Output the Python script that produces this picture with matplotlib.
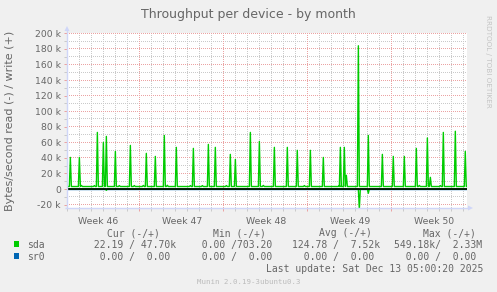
import matplotlib
matplotlib.use('Agg')
import numpy as np
import matplotlib.pyplot as plt
from matplotlib.colors import to_rgb
from matplotlib.patches import Rectangle, Polygon
from matplotlib.ticker import FixedLocator, FuncFormatter, MultipleLocator

# ---------------- data (x in days since Mon 10 Nov 2025, values in bytes/s) ----------------
write_spike_day = [1.28, 2.03, 3.53, 4.03, 4.28, 5.03, 6.28, 7.61, 8.36, 9.11, 10.11, 11.53,
                   12.78, 13.36, 14.61, 15.03, 16.28, 17.03, 18.28, 19.36, 20.19, 21.28, 22.36,
                   23.78, 24.11, 24.28, 25.28, 26.11, 27.28, 28.19, 29.11, 30.11, 31.03, 31.28,
                   32.36, 33.36, 34.19]
write_spike_val = [40.6e3, 40.6e3, 72.7e3, 59.9e3, 67.6e3, 48.3e3, 56.0e3, 45.8e3, 41.9e3, 68.8e3,
                   53.5e3, 52.2e3, 57.3e3, 53.5e3, 44.5e3, 38.1e3, 72.7e3, 61.2e3, 53.5e3, 53.5e3,
                   49.7e3, 49.7e3, 40.6e3, 53.5e3, 53.5e3, 17.6e3, 184.0e3, 68.8e3, 44.5e3, 41.9e3,
                   41.9e3, 52.2e3, 65.6e3, 15.0e3, 72.7e3, 74.2e3, 48.3e3]
write_bump_day = [2.20, 3.28, 5.36, 6.61, 7.36, 9.36, 11.28, 12.28, 14.28, 17.36, 20.78, 23.69,
                  30.36, 32.11]
write_bump_val = [4.6e3, 4.4e3, 4.4e3, 4.4e3, 4.6e3, 4.8e3, 4.4e3, 4.4e3, 4.4e3, 4.6e3, 4.4e3,
                  4.4e3, 4.6e3, 4.4e3]
write_base = 3.2e3
read_spike_day = [4.28, 25.36, 26.11]
read_spike_val = [-1.7e3, -26.0e3, -5.5e3]
read_base = 0.0

x_start, x_end = 1.0, 34.333
y_low, y_high = -24.4e3, 200.4e3
week_bounds = [7, 14, 21, 28]
week_label_day = [3.58, 10.58, 17.58, 24.58, 31.58]
week_labels = ['Week 46', 'Week 47', 'Week 48', 'Week 49', 'Week 50']
y_major = [-20e3, 0, 20e3, 40e3, 60e3, 80e3, 100e3, 120e3, 140e3, 160e3, 180e3, 200e3]
y_minor = [-10e3, 10e3, 30e3, 50e3, 70e3, 90e3, 110e3, 130e3, 150e3, 170e3, 190e3]

title = 'Throughput per device - by month'
ylabel = 'Bytes/second read (-) / write (+)'
legend_names = ['sda', 'sr0']
legend_colors = ['#00CC00', '#0066B3']
col_headers = ['Cur (-/+)', 'Min (-/+)', 'Avg (-/+)', 'Max (-/+)']
legend_values = [[' 22.19 / 47.70k', '  0.00 /703.20 ', '124.78 /  7.52k', '549.18k/  2.33M'],
                 ['  0.00 /  0.00 ', '  0.00 /  0.00 ', '  0.00 /  0.00 ', '  0.00 /  0.00 ']]
last_update = 'Last update: Sat Dec 13 05:00:20 2025'
version = 'Munin 2.0.19-3ubuntu0.3'
watermark = 'RRDTOOL / TOBI OETIKER'

STEP = 1.0 / 12.0  # 2-hour samples


def series(days, vals, base):
    pts = sorted(zip(days, vals))
    xs, ys = [x_start], [base]
    for d, v in pts:
        xs += [d - STEP, d, d + STEP]
        ys += [base, v, base]
    xs.append(x_end)
    ys.append(base)
    return xs, ys


W, H = 497, 292
fig = plt.figure(figsize=(W / 100, H / 100), dpi=100)
fig.patch.set_facecolor('#F0F0F0')
FONT = '#666666'
AXISC = '#CFD6F8'
MGRID = '#EBA3A3'
GRID = '#CACACA'

left, right, top, bottom = 67, 467, 33, 208
PW, PH = right - left, bottom - top
ax = fig.add_axes([left / W, 1 - bottom / H, PW / W, PH / H])
ax.set_facecolor('white')
ax.set_xlim(x_start, x_end)
ax.set_ylim(y_low, y_high)

for s in ax.spines.values():
    s.set_visible(False)

ax.yaxis.set_major_locator(FixedLocator(y_major))
ax.yaxis.set_minor_locator(FixedLocator(y_minor))
ax.xaxis.set_major_locator(FixedLocator(week_bounds))
ax.xaxis.set_minor_locator(MultipleLocator(1))


def kfmt(v, pos):
    if abs(v) < 1:
        return '0'
    return '%d k' % round(v / 1000)


ax.yaxis.set_major_formatter(FuncFormatter(kfmt))
ax.set_xticklabels([])
ax.tick_params(axis='y', which='major', length=2.5, width=0.72, color=MGRID, labelsize=6.7,
               labelcolor=FONT, pad=2)
ax.tick_params(axis='y', which='minor', length=2.5, width=0.72, color=GRID)
ax.tick_params(axis='x', which='major', length=2.5, width=0.72, color=MGRID)
ax.tick_params(axis='x', which='minor', length=2.5, width=0.72, color=GRID)

# dotted rrdtool-style grid rendered pixel-exact as a raster background
canvas = np.ones((PH, PW, 3))


def row_of(v):
    return int(np.floor(H - ax.transData.transform((x_start, v))[1] - top + 1e-6))


def col_of(d):
    return int(np.floor(ax.transData.transform((d, 0))[0] - left + 1e-6))


def hline(v, colr):
    r = row_of(v)
    if 0 <= r < PH:
        canvas[r, 0::2] = to_rgb(colr)


def vline(d, colr):
    c = col_of(d)
    if 0 <= c < PW:
        canvas[0::2, c] = to_rgb(colr)


for v in y_minor:
    hline(v, GRID)
for d in range(2, 35):
    if d not in week_bounds:
        vline(d, GRID)
for v in y_major:
    hline(v, MGRID)
for d in week_bounds:
    vline(d, MGRID)
ax.imshow(canvas, extent=(x_start, x_end, y_low, y_high), origin='upper', aspect='auto',
          interpolation='nearest', zorder=0)
ax.set_xlim(x_start, x_end)
ax.set_ylim(y_low, y_high)

wx, wy = series(write_spike_day + write_bump_day, write_spike_val + write_bump_val, write_base)
rx, ry = series(read_spike_day, read_spike_val, read_base)
ax.plot(rx, ry, color='#00CC00', lw=1.0, zorder=3)
ax.plot(wx, wy, color='#00CC00', lw=1.0, zorder=3)
ax.axhline(0, color='#0066B3', lw=1.0, zorder=2)
ax.axhline(0, color='black', lw=1.2, zorder=4)

for d, lab in zip(week_label_day, week_labels):
    ax.text(d, -0.08, lab, transform=ax.get_xaxis_transform(), ha='center', va='center',
            fontsize=6.7, color=FONT, family='DejaVu Sans')

# overlay in pixel coordinates
ov = fig.add_axes([0, 0, 1, 1])
ov.set_xlim(0, W)
ov.set_ylim(H, 0)
ov.axis('off')
ov.patch.set_alpha(0)

# axes lines and arrows
ov.plot([left, left], [bottom, 30], color=AXISC, lw=1.0, solid_capstyle='butt')
ov.plot([left - 2, 469], [bottom, bottom], color=AXISC, lw=1.0, solid_capstyle='butt')
ov.add_patch(Polygon([[left - 2.5, 31], [left + 2.5, 31], [left, 26]], closed=True,
                     facecolor=AXISC, edgecolor='none'))
ov.add_patch(Polygon([[468, bottom - 2.5], [468, bottom + 2.5], [473, bottom]], closed=True,
                     facecolor=AXISC, edgecolor='none'))

ov.text(248.5, 18.3, title, ha='center', va='baseline', fontsize=9, color=FONT,
        family='DejaVu Sans')
ov.text(10, 120.5, ylabel, ha='center', va='center', rotation=90, fontsize=8.0, color=FONT,
        family='DejaVu Sans')
ov.text(488, 15, watermark, ha='center', va='top', rotation=270, fontsize=5.2, color='#C4C4C4',
        family='DejaVu Sans')

MONO = 'DejaVu Sans Mono'
header_x = [107.3, 213.3, 318.7, 423.3]
col_x = [88.1, 190.0, 292.3, 394.3]
for hx, h in zip(header_x, col_headers):
    ov.text(hx, 236.3, h, ha='left', va='baseline', fontsize=7, color=FONT, family=MONO)
row_y = [247.7, 259.7]
for name, colr, vals, yb in zip(legend_names, legend_colors, legend_values, row_y):
    ov.add_patch(Rectangle((13.8, yb - 6.3), 5.6, 5.6, facecolor=colr, edgecolor='none'))
    ov.text(26.7, yb, name, ha='left', va='baseline', fontsize=7, color=FONT, family=MONO)
    for cx, v in zip(col_x, vals):
        ov.text(cx, yb, v, ha='left', va='baseline', fontsize=7, color=FONT, family=MONO)
ov.text(483.3, 272.3, last_update, ha='right', va='baseline', fontsize=7, color=FONT, family=MONO)
ov.text(248.3, 284, version, ha='center', va='baseline', fontsize=5.3, color='#BBBBBB',
        family=MONO)

fig.savefig('out.png', dpi=100, facecolor=fig.get_facecolor())
